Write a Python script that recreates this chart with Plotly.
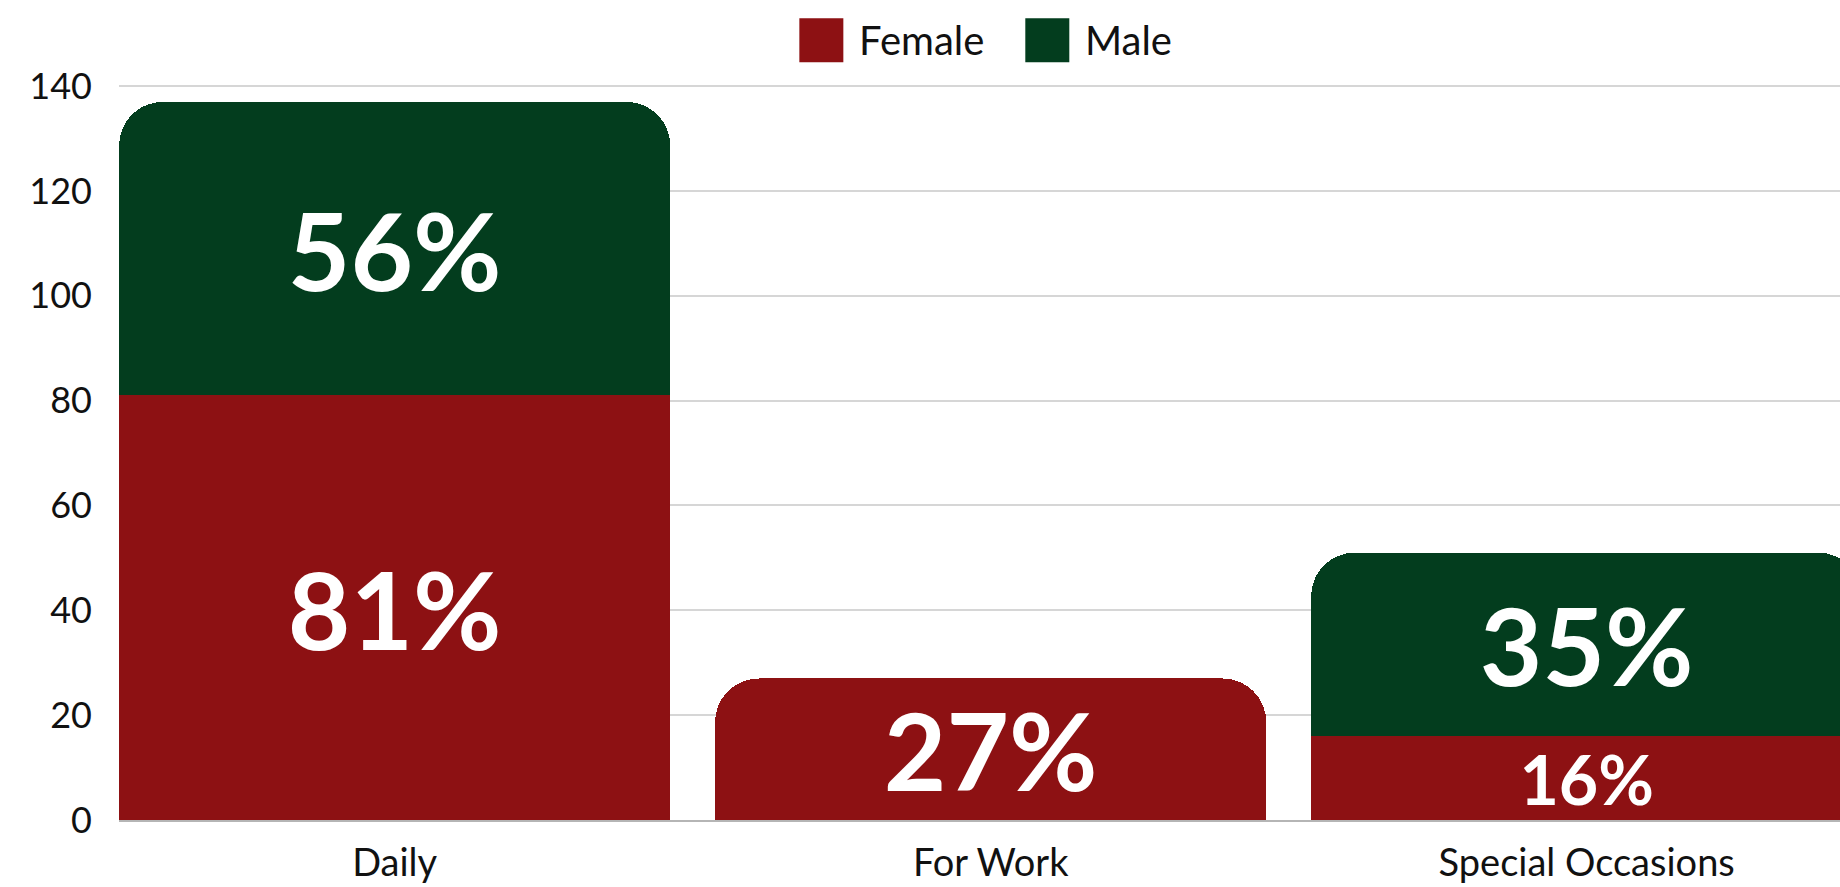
import plotly.graph_objects as go

# Share of respondents by occasion, split by gender (values in %)
categories = ["Daily", "For Work", "Special Occasions"]
female_values = [81, 27, 16]
male_values = [56, None, 35]
series_names = ["Female", "Male"]
female_label_sizes = [108, 108, 68]
male_label_sizes = [108, 108, 108]

RED = "#8D1113"
GREEN = "#033D1E"
FONT = "Lato"

fig = go.Figure()
fig.add_trace(go.Bar(
    x=categories, y=female_values, name=series_names[0],
    marker=dict(color=RED, line=dict(width=0)),
    texttemplate="%{y}%", textposition="inside", insidetextanchor="middle",
    textangle=0, constraintext="none",
    textfont=dict(family=FONT, color="white", size=female_label_sizes, weight="bold"),
    showlegend=False, hoverinfo="skip",
))
fig.add_trace(go.Bar(
    x=categories, y=male_values, name=series_names[1],
    marker=dict(color=GREEN, line=dict(width=0)),
    texttemplate="%{y}%", textposition="inside", insidetextanchor="middle",
    textangle=0, constraintext="none",
    textfont=dict(family=FONT, color="white", size=male_label_sizes, weight="bold"),
    showlegend=False, hoverinfo="skip",
))

# Legend drawn as large square swatches with labels above the plot
legend_y = 1.058
legend_items = [(series_names[0], RED, 0.4081), (series_names[1], GREEN, 0.5394)]
for name, color, xc in legend_items:
    fig.add_shape(
        type="rect", xref="paper", yref="paper",
        xsizemode="pixel", ysizemode="pixel",
        xanchor=xc, yanchor=legend_y,
        x0=-22, x1=22, y0=-22, y1=22,
        fillcolor=color, line=dict(width=0),
    )
    fig.add_annotation(
        x=xc, y=legend_y, xref="paper", yref="paper",
        xshift=36, xanchor="left", yanchor="middle",
        text=name, showarrow=False,
        font=dict(family=FONT, size=40, color="#111111"),
    )

fig.update_layout(
    barmode="stack",
    bargap=0.075,
    barcornerradius=44,
    width=1840, height=887,
    margin=dict(l=118.5, r=0, t=82.5, b=66.7),
    paper_bgcolor="white", plot_bgcolor="white",
    font=dict(family=FONT, color="#111111"),
)
fig.update_xaxes(
    range=[-0.4625, 2.425],
    showgrid=False,
    showline=True, linecolor="#b5b5b5", linewidth=2,
    ticks="", ticklabelstandoff=8,
    tickfont=dict(family=FONT, size=38, color="#111111"),
)
fig.update_yaxes(
    range=[0, 140.6], dtick=20,
    showgrid=True, gridcolor="#d6d6d6", gridwidth=1.5,
    zeroline=False, showline=False,
    ticks="", ticklabelstandoff=26,
    tickfont=dict(family=FONT, size=36, color="#111111"),
)

fig.write_html("out.html")
